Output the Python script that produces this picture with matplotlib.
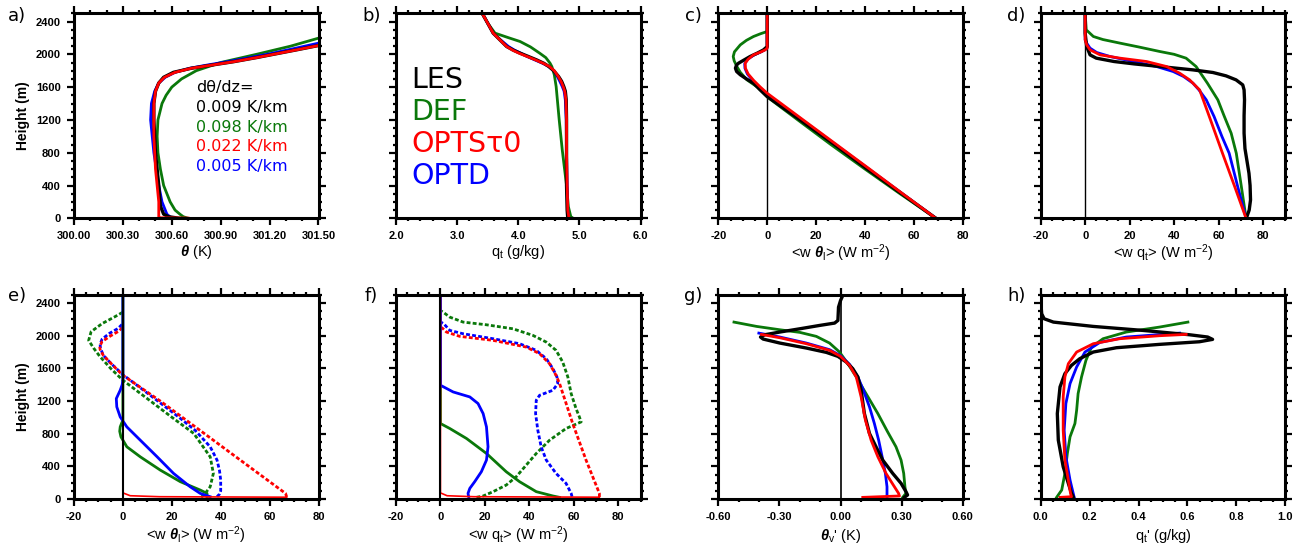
import matplotlib
matplotlib.use('Agg')
import matplotlib.pyplot as plt
from matplotlib.ticker import MultipleLocator, FixedLocator, FormatStrFormatter

plt.rcParams['mathtext.fontset'] = 'custom'
plt.rcParams['mathtext.rm'] = 'Liberation Sans'
plt.rcParams['mathtext.it'] = 'Liberation Sans:italic'
plt.rcParams['mathtext.bf'] = 'Liberation Sans:bold'
plt.rcParams['mathtext.bfit'] = 'Liberation Sans:bold:italic'
plt.rcParams['font.family'] = ['Liberation Sans', 'DejaVu Sans']

# ---------------- data ----------------
series_names = ['LES', 'DEF', 'OPTS\u03c40', 'OPTD']
slopes = ['0.009 K/km', '0.098 K/km', '0.022 K/km', '0.005 K/km']

# a) theta
a_z_les = [0, 8, 20, 50, 150, 400, 800, 1200, 1400, 1550, 1650, 1720, 1780, 1830, 1870, 1910, 1960, 2010, 2060, 2107]
a_les = [300.65, 300.62, 300.58, 300.55, 300.53, 300.52, 300.50, 300.49, 300.49, 300.50, 300.52, 300.55, 300.61, 300.72, 300.85, 300.98, 301.12, 301.25, 301.38, 301.50]
a_z_def = [0, 20, 50, 100, 200, 400, 600, 800, 1000, 1200, 1400, 1500, 1600, 1700, 1800, 1900, 2000, 2100, 2197]
a_def = [300.70, 300.67, 300.65, 300.62, 300.59, 300.55, 300.53, 300.515, 300.51, 300.515, 300.54, 300.565, 300.60, 300.66, 300.75, 300.90, 301.12, 301.33, 301.50]
a_z_opts = [3, 6, 15, 40, 100, 200, 400, 600, 1000, 1400, 1550, 1650, 1720, 1780, 1830, 1870, 1910, 1960, 2010, 2060, 2107]
a_opts = [300.70, 300.53, 300.52, 300.52, 300.52, 300.52, 300.51, 300.50, 300.49, 300.49, 300.50, 300.52, 300.555, 300.62, 300.72, 300.85, 300.98, 301.12, 301.25, 301.38, 301.50]
a_z_optd = [0, 50, 200, 400, 800, 1200, 1400, 1550, 1650, 1720, 1780, 1830, 1870, 1910, 1960, 2010, 2070, 2136]
a_optd = [300.60, 300.57, 300.54, 300.52, 300.49, 300.47, 300.475, 300.495, 300.52, 300.56, 300.62, 300.71, 300.82, 300.94, 301.08, 301.21, 301.35, 301.50]

# b) qt
b_z = [0, 100, 400, 800, 1200, 1444, 1550, 1607, 1670, 1729, 1800, 1851, 1890, 1932, 1975, 2014, 2050, 2095, 2176, 2258, 2380, 2500]
b_les = [4.81, 4.80, 4.79, 4.79, 4.79, 4.785, 4.77, 4.745, 4.71, 4.66, 4.58, 4.50, 4.42, 4.30, 4.16, 4.03, 3.92, 3.81, 3.70, 3.59, 3.50, 3.41]
b_opts = [4.83, 4.81, 4.80, 4.79, 4.79, 4.78, 4.76, 4.735, 4.70, 4.655, 4.59, 4.51, 4.41, 4.28, 4.14, 4.01, 3.91, 3.81, 3.70, 3.59, 3.50, 3.41]
b_optd = [4.82, 4.81, 4.80, 4.79, 4.785, 4.77, 4.75, 4.72, 4.68, 4.64, 4.58, 4.50, 4.40, 4.27, 4.14, 4.04, 3.94, 3.84, 3.71, 3.59, 3.50, 3.41]
b_z_def = [0, 20, 142, 400, 834, 1200, 1444, 1607, 1750, 1850, 1892, 1960, 2014, 2090, 2156, 2200, 2258, 2380, 2500]
b_def = [4.90, 4.86, 4.82, 4.79, 4.72, 4.67, 4.64, 4.62, 4.59, 4.55, 4.52, 4.45, 4.35, 4.20, 4.03, 3.85, 3.62, 3.50, 3.41]

# c) <w theta_l>
c_z_les = [0, 300, 600, 900, 1200, 1485, 1570, 1648, 1700, 1750, 1790, 1831, 1870, 1892, 1930, 1973, 2015, 2054, 2095, 2500]
c_les = [69, 55, 41, 27.5, 13.5, 0, -3, -5.6, -8.5, -11, -12.5, -13, -12.5, -11.7, -9.5, -7, -4, -1.5, 0, 0]
c_z_def = [0, 300, 600, 900, 1200, 1480, 1525, 1600, 1689, 1780, 1851, 1920, 1973, 2030, 2115, 2170, 2217, 2250, 2278, 2500]
c_def = [69, 54.3, 40, 26, 12.5, 0, -1.5, -4, -8.3, -11, -12.4, -13.5, -13.9, -13.4, -11, -8.5, -5.6, -2.8, 0, 0]
c_z_opts = [0, 300, 600, 900, 1200, 1525, 1600, 1680, 1760, 1830, 1892, 1940, 1993, 2030, 2054, 2075, 2500]
c_opts = [69, 55.4, 41.9, 28.3, 14.7, 0, -2.8, -5.5, -7.8, -8.9, -9, -7.8, -5.6, -2.5, -0.8, 0, 0]
c_z_optd = [0, 300, 600, 900, 1200, 1510, 1600, 1680, 1760, 1830, 1885, 1940, 1993, 2030, 2060, 2085, 2500]
c_optd = [69, 55.3, 41.6, 27.9, 14.2, 0, -3.2, -5.9, -8.1, -9.1, -9.2, -8, -5.3, -2.5, -0.7, 0, 0]

# d) <w qt>
d_z_les = [0, 100, 224, 400, 549, 700, 850, 1037, 1250, 1444, 1566, 1627, 1688, 1737, 1778, 1810, 1851, 1883, 1912, 1953, 1993, 2095, 2258, 2500]
d_les = [72.5, 73.8, 74.4, 74.2, 73.7, 72.8, 71.9, 71.5, 71.5, 71.7, 71.5, 70.9, 67.9, 63.4, 57.5, 48.5, 33.6, 22, 13, 5, 2.2, 0.7, 0, 0]
d_z_def = [0, 400, 793, 1037, 1250, 1444, 1648, 1851, 1953, 2000, 2034, 2090, 2136, 2180, 2217, 2298, 2500]
d_def = [72.4, 70.2, 68, 65.7, 62.5, 59.7, 55, 49.9, 45.4, 40, 33.6, 24, 15.7, 8, 3.7, 0.5, 0]
d_z_opts = [0, 400, 800, 1200, 1566, 1688, 1770, 1851, 1912, 1953, 1993, 2054, 2115, 2176, 2500]
d_opts = [72.4, 67.1, 61.7, 56.4, 51.5, 47, 42.5, 36.6, 27.6, 15.7, 6.7, 2.2, 0.7, 0, 0]
d_z_optd = [0, 400, 793, 1000, 1241, 1444, 1566, 1648, 1729, 1790, 1851, 1912, 1973, 2022, 2075, 2136, 2176, 2500]
d_optd = [72.4, 68.5, 64.8, 61.5, 58, 54.5, 51.2, 48.5, 44.3, 39.6, 32.1, 21.6, 11.2, 5.2, 2.2, 0.7, 0, 0]

# e) <w theta_l> partition (solid / dashed)
e_z_def_s = [20, 69, 110, 212, 354, 517, 640, 762, 830, 884, 930, 965, 2500]
e_def_s = [34.4, 34.4, 31.6, 23.5, 15.3, 7.1, 1.6, -0.8, -1.3, -1.1, -0.5, 0, 0]
e_z_optd_s = [28, 69, 150, 314, 517, 721, 884, 1006, 1129, 1230, 1333, 1400, 1455, 2500]
e_optd_s = [35.7, 31.6, 27.5, 20.7, 14, 7.1, 1.6, -1.1, -2.5, -2.7, -1.1, -0.3, 0, 0]
e_z_opts_s = [22, 28, 40, 75, 2500]
e_opts_s = [67, 15, 3, 0, 0]
e_z_def_d = [20, 70, 150, 314, 517, 803, 1000, 1200, 1455, 1600, 1750, 1850, 1944, 2050, 2150, 2230, 2290]
e_def_d = [32, 33.7, 35.7, 37, 35.7, 29, 20.1, 11.3, 0, -5, -9.5, -12, -14, -13, -8.5, -3.5, 0]
e_z_optd_d = [28, 60, 100, 232, 350, 477, 640, 843, 1000, 1200, 1400, 1516, 1650, 1760, 1850, 1900, 1960, 2030, 2090, 2150]
e_optd_d = [38.5, 39.5, 40, 40, 39.5, 38.5, 35.7, 29.5, 23, 14.3, 5.5, 0.3, -4.5, -8, -9.2, -9.3, -8.5, -5.5, -2, 0]
e_z_opts_d = [25, 69, 400, 800, 1200, 1516, 1650, 1760, 1830, 1870, 1930, 2000, 2060, 2110]
e_opts_d = [67, 66.5, 51.5, 33.4, 15.3, 0, -4.5, -8, -9.3, -9.5, -8.5, -5, -1.5, 0]

# f) <w qt> partition (solid / dashed)
f_z_def_s = [20, 37, 90, 212, 334, 558, 742, 864, 925, 2500]
f_def_s = [53.6, 50.6, 43.1, 35.6, 29.6, 20.7, 11.7, 4.2, 0, 0]
f_z_optd_s = [28, 69, 130, 212, 334, 477, 640, 884, 1047, 1170, 1251, 1312, 1394, 2500]
f_optd_s = [12.7, 12.4, 13.2, 15.4, 18.4, 20.7, 21.4, 20.7, 19.2, 16.9, 13.2, 5.7, 0, 0]
f_z_opts_s = [22, 28, 40, 75, 2500]
f_opts_s = [71.5, 15, 3, 0, 0]
f_z_def_d = [20, 37, 90, 171, 273, 416, 558, 721, 864, 945, 1006, 1108, 1292, 1496, 1679, 1822, 1923, 2005, 2086, 2135, 2168, 2229, 2290, 2310]
f_def_d = [16.2, 19.2, 23.7, 29.6, 34.1, 38.6, 43.1, 49.1, 56.5, 63.3, 62.5, 61, 58.8, 57.3, 55, 52, 47.6, 41.6, 32.6, 20.7, 10.2, 4.2, 1.2, 0]
f_z_optd_d = [28, 69, 192, 314, 477, 640, 843, 1047, 1210, 1271, 1333, 1414, 1496, 1597, 1720, 1822, 1903, 1964, 2025, 2066, 2148, 2170]
f_optd_d = [59.2, 58.8, 56.5, 52, 47.6, 45.3, 43.8, 42.8, 43.1, 44.6, 50.6, 52.8, 52.4, 50.6, 47.6, 43.1, 35.6, 23.7, 10.2, 4.2, 1.5, 0]
f_z_opts_d = [25, 69, 477, 925, 1414, 1516, 1658, 1781, 1862, 1944, 1993, 2046, 2086, 2110]
f_opts_d = [71.5, 71.5, 65.5, 59.5, 53.6, 52, 49.1, 44.6, 38.6, 23.7, 8.7, 2.7, 1.2, 0]

# g) theta_v'
g_z_les = [20, 49, 90, 192, 314, 477, 640, 803, 1047, 1333, 1496, 1597, 1679, 1748, 1797, 1850, 1911, 1960, 1985, 2013, 2046, 2086, 2127, 2156, 2188, 2351, 2433, 2494]
g_les = [0.313, 0.329, 0.321, 0.297, 0.256, 0.207, 0.174, 0.142, 0.117, 0.101, 0.085, 0.06, 0.028, -0.013, -0.07, -0.168, -0.298, -0.38, -0.393, -0.372, -0.298, -0.2, -0.103, -0.029, -0.013, -0.01, 0, 0.011]
g_z_def = [20, 69, 150, 314, 477, 640, 823, 1047, 1292, 1496, 1658, 1801, 1911, 1993, 2042, 2074, 2115, 2168]
g_def = [0.305, 0.321, 0.316, 0.31, 0.297, 0.272, 0.231, 0.183, 0.125, 0.077, 0.036, -0.005, -0.054, -0.119, -0.2, -0.298, -0.412, -0.523]
g_z_opts = [20, 37, 69, 171, 314, 518, 721, 966, 1251, 1496, 1638, 1748, 1822, 1903, 1976, 2017]
g_opts = [0.109, 0.289, 0.285, 0.259, 0.223, 0.183, 0.15, 0.122, 0.101, 0.077, 0.044, 0, -0.054, -0.168, -0.298, -0.388]
g_z_optd = [0, 28, 150, 314, 518, 721, 925, 1129, 1333, 1496, 1650, 1756, 1830, 1911, 1985, 2033]
g_optd = [0.228, 0.228, 0.228, 0.22, 0.204, 0.187, 0.166, 0.142, 0.112, 0.085, 0.044, 0, -0.054, -0.168, -0.298, -0.401]

# h) qt'
h_z_les = [28, 69, 192, 395, 721, 1047, 1373, 1536, 1638, 1720, 1801, 1854, 1895, 1927, 1956, 1985, 2013, 2066, 2115, 2168, 2209, 2270, 2433, 2494]
h_les = [0.133, 0.126, 0.113, 0.092, 0.072, 0.068, 0.079, 0.099, 0.126, 0.16, 0.215, 0.31, 0.486, 0.649, 0.703, 0.683, 0.608, 0.418, 0.215, 0.052, 0.014, 0.004, 0, 0]
h_z_def = [20, 110, 314, 558, 762, 925, 1088, 1292, 1496, 1699, 1862, 1964, 2046, 2107, 2168]
h_def = [0.065, 0.086, 0.099, 0.109, 0.12, 0.14, 0.147, 0.153, 0.167, 0.185, 0.208, 0.255, 0.35, 0.486, 0.602]
h_z_opts = [20, 28, 69, 232, 477, 843, 1251, 1496, 1658, 1801, 1903, 1964, 2001, 2017]
h_opts = [0.079, 0.126, 0.122, 0.113, 0.099, 0.092, 0.092, 0.099, 0.113, 0.147, 0.215, 0.323, 0.486, 0.595]
h_z_optd = [20, 69, 232, 518, 843, 1170, 1414, 1618, 1801, 1919, 1985, 2033]
h_optd = [0.137, 0.133, 0.12, 0.103, 0.096, 0.103, 0.12, 0.147, 0.181, 0.242, 0.35, 0.568]

# ---------------- style ----------------
C_LES, C_DEF, C_OPTS, C_OPTD = 'black', '#0a780a', '#ff0000', '#0000ff'
LW = 2.0
DASH = (0, (1.4, 0.8))

fig = plt.figure(figsize=(12.97, 5.56), dpi=100)
W, H = 1297.0, 556.0
lefts = [74, 396, 718.3, 1040.7]
width = 244.5
top_row = (13.3, 218.3)
bot_row = (295.0, 499.0)

def make_ax(col, row):
    t, b = row
    return fig.add_axes([lefts[col] / W, 1 - b / H, width / W, (b - t) / H])

xcfg = {
    'a': ((300.0, 301.5), [300.0, 300.3, 300.6, 300.9, 301.2, 301.5], 0.1, '%.2f'),
    'b': ((2.0, 6.0), [2, 3, 4, 5, 6], 0.2, '%.1f'),
    'c': ((-20, 80), [-20, 0, 20, 40, 60, 80], 5, '%d'),
    'd': ((-20, 90), [-20, 0, 20, 40, 60, 80], 5, '%d'),
    'e': ((-20, 80), [-20, 0, 20, 40, 60, 80], 5, '%d'),
    'f': ((-20, 90), [-20, 0, 20, 40, 60, 80], 5, '%d'),
    'g': ((-0.6, 0.6), [-0.6, -0.3, 0.0, 0.3, 0.6], 0.1, '%.2f'),
    'h': ((0.0, 1.0), [0, 0.2, 0.4, 0.6, 0.8, 1.0], 0.05, '%.1f'),
}
xlabels = {
    'a': r'$\mathbfit{\theta}$ (K)',
    'b': r'q$_\mathrm{t}$ (g/kg)',
    'c': r'<w $\mathbfit{\theta}_\mathrm{l}$> (W m$^{-2}$)',
    'd': r'<w q$_\mathrm{t}$> (W m$^{-2}$)',
    'e': r'<w $\mathbfit{\theta}_\mathrm{l}$> (W m$^{-2}$)',
    'f': r'<w q$_\mathrm{t}$> (W m$^{-2}$)',
    'g': r"$\mathbfit{\theta}_\mathrm{v}$' (K)",
    'h': r"q$_\mathrm{t}$' (g/kg)",
}
label_x = {'a': 8, 'b': 362, 'c': 685, 'd': 1007, 'e': 8, 'f': 365, 'g': 684, 'h': 1007}
label_pad = {'a': 1, 'b': 1, 'c': 1, 'd': 0.5, 'e': 1.5, 'f': 1.5, 'g': 3.5, 'h': 3.5}

axes = {}
keys = ['a', 'b', 'c', 'd', 'e', 'f', 'g', 'h']
for i, k in enumerate(keys):
    col = i % 4
    row = top_row if i < 4 else bot_row
    ax = make_ax(col, row)
    axes[k] = ax
    lim, ticks, minor, fmt = xcfg[k]
    ax.set_xlim(*lim)
    ax.set_ylim(0, 2500)
    ax.xaxis.set_major_locator(FixedLocator(ticks))
    ax.xaxis.set_minor_locator(MultipleLocator(minor))
    ax.xaxis.set_major_formatter(FormatStrFormatter(fmt))
    ax.yaxis.set_major_locator(FixedLocator([0, 400, 800, 1200, 1600, 2000, 2400]))
    ax.yaxis.set_minor_locator(MultipleLocator(100))
    ax.tick_params(which='both', direction='out', top=True, right=True, width=1.6)
    ax.tick_params(which='major', length=5, pad=4.5, labelsize=8)
    ax.tick_params(which='minor', length=2.5)
    for sp in ax.spines.values():
        sp.set_linewidth(2.2)
    if col != 0:
        ax.tick_params(labelleft=False)
    else:
        ax.set_ylabel('Height (m)', fontsize=10, fontweight='bold', labelpad=4)
    for lab in ax.get_xticklabels() + ax.get_yticklabels():
        lab.set_fontweight('bold')
    ax.set_xlabel(xlabels[k], fontsize=10.5, labelpad=label_pad[k])
    ytxt = 16 if i < 4 else 296
    fig.text(label_x[k] / W, 1 - ytxt / H, k + ')', fontsize=13, family='DejaVu Sans',
             ha='left', va='center')

def four(ax, zs, xs):
    (zl, xl), (zd, xd), (zs_, xs_), (zb, xb) = zip(zs, xs)
    ax.plot(xd, zd, color=C_DEF, lw=LW)
    ax.plot(xb, zb, color=C_OPTD, lw=LW)
    ax.plot(xl, zl, color=C_LES, lw=LW + 0.4)
    ax.plot(xs_, zs_, color=C_OPTS, lw=LW)

# a
ax = axes['a']
four(ax, [a_z_les, a_z_def, a_z_opts, a_z_optd], [a_les, a_def, a_opts, a_optd])
ax.text(0.5, 0.615, 'd\u03b8/dz=', transform=ax.transAxes, fontsize=11.5, family='DejaVu Sans', color='black')
for j, (s, c) in enumerate(zip(slopes, [C_LES, C_DEF, C_OPTS, C_OPTD])):
    ax.text(0.5, 0.518 - 0.096 * j, s, transform=ax.transAxes, fontsize=11.5,
            family='DejaVu Sans', color=c)

# b
ax = axes['b']
four(ax, [b_z, b_z_def, b_z, b_z], [b_les, b_def, b_opts, b_optd])
for j, (s, c) in enumerate(zip(series_names, [C_LES, C_DEF, C_OPTS, C_OPTD])):
    ax.text(0.064, 0.634 - 0.156 * j, s, transform=ax.transAxes, fontsize=20.5,
            family='DejaVu Sans', color=c, va='baseline')

# c, d
for k, zs, xs in [('c', [c_z_les, c_z_def, c_z_opts, c_z_optd], [c_les, c_def, c_opts, c_optd]),
                  ('d', [d_z_les, d_z_def, d_z_opts, d_z_optd], [d_les, d_def, d_opts, d_optd])]:
    ax = axes[k]
    ax.axvline(0, color='black', lw=1.0, zorder=1)
    four(ax, zs, xs)

# e, f
for k, sol, das in [('e', [(e_z_def_s, e_def_s), (e_z_optd_s, e_optd_s), (e_z_opts_s, e_opts_s)],
                          [(e_z_def_d, e_def_d), (e_z_optd_d, e_optd_d), (e_z_opts_d, e_opts_d)]),
                    ('f', [(f_z_def_s, f_def_s), (f_z_optd_s, f_optd_s), (f_z_opts_s, f_opts_s)],
                          [(f_z_def_d, f_def_d), (f_z_optd_d, f_optd_d), (f_z_opts_d, f_opts_d)])]:
    ax = axes[k]
    for (z, x), c in zip(das, [C_DEF, C_OPTD, C_OPTS]):
        ax.plot(x, z, color=c, lw=LW, linestyle=DASH)
    for (z, x), c in zip(sol, [C_DEF, C_OPTD, C_OPTS]):
        ax.plot(x, z, color=c, lw=LW if c != C_OPTS else 1.2)
    ax.axvline(0, color='black', lw=1.5, zorder=5)

# g, h
ax = axes['g']
ax.axvline(0, color='black', lw=1.2, zorder=1)
four(ax, [g_z_les, g_z_def, g_z_opts, g_z_optd], [g_les, g_def, g_opts, g_optd])
ax = axes['h']
four(ax, [h_z_les, h_z_def, h_z_opts, h_z_optd], [h_les, h_def, h_opts, h_optd])

fig.savefig('out.png', dpi=100)
